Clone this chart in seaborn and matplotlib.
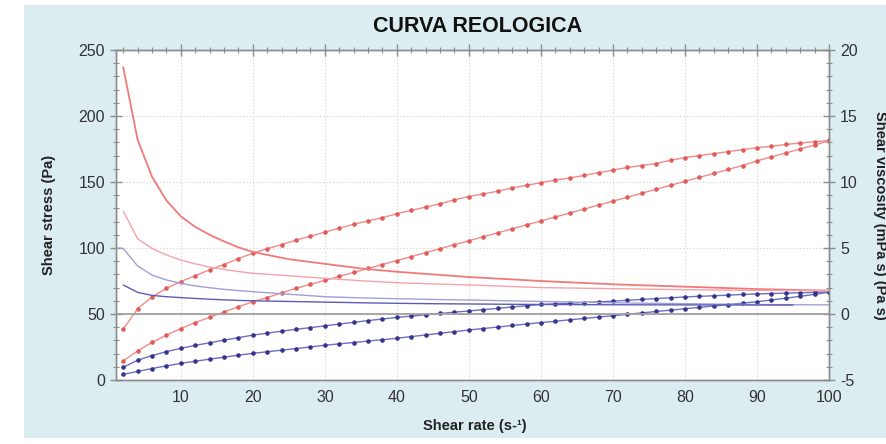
import numpy as np
import pandas as pd
import matplotlib
matplotlib.use("Agg")
import matplotlib.pyplot as plt
from matplotlib.patches import Rectangle
from matplotlib.ticker import MultipleLocator
import seaborn as sns

# ---------------- data ----------------
shear_rate = list(range(2, 101, 2))

stress_red_up = [38.5, 54, 63, 69.5, 74.5, 79, 83.5, 87.5, 92, 96,
                 99.5, 102.5, 106, 109, 112, 115, 118, 120.5, 123, 126,
                 128.5, 131, 133.5, 136.5, 139, 141, 143, 145.5, 147.5, 149.5,
                 151.5, 153, 155, 157, 159, 161, 162.5, 164, 166.5, 168.5,
                 170, 171.5, 173, 174.5, 176, 177, 178.5, 179.5, 180.5, 181.5]
stress_red_down = [14.5, 22, 28.5, 34, 39, 43.5, 47.5, 51.5, 55.5, 59.3,
                   62.5, 66, 69.5, 72.5, 75.5, 78.5, 81.5, 84.5, 87.5, 90.5,
                   93.5, 96.5, 99.5, 102.5, 105.5, 108.5, 111.5, 114.5, 117.5, 120.5,
                   123.5, 126.5, 129.5, 132.5, 135.5, 138.5, 141.5, 144.5, 147.5, 150.5,
                   153.5, 156.5, 159.5, 162.5, 166, 169, 172, 175, 178, 181.3]
stress_blue_up = [9.6, 15, 18.5, 21.5, 24, 26.2, 28.2, 30.2, 32.1, 34,
                  35.5, 37, 38.4, 39.7, 41, 42.4, 43.7, 45, 46.2, 47.4,
                  48.4, 49.4, 50.4, 51.4, 52.3, 53.3, 54.3, 55.3, 56.3, 57.2,
                  57.7, 58.2, 58.7, 59.2, 59.7, 60.4, 61, 61.7, 62.3, 62.9,
                  63.4, 63.8, 64.3, 64.8, 65.2, 65.5, 65.8, 66.1, 66.4, 66.7]
stress_blue_down = [4.3, 6.5, 8.7, 10.7, 12.6, 14.2, 15.8, 17.3, 18.8, 20.2,
                    21.4, 22.6, 23.8, 25.1, 26.3, 27.4, 28.4, 29.5, 30.5, 31.6,
                    32.9, 34.1, 35.4, 36.6, 37.9, 39, 40.1, 41.3, 42.4, 43.5,
                    44.5, 45.6, 46.6, 47.7, 48.7, 49.8, 50.8, 51.9, 52.9, 54,
                    55, 56.1, 57.1, 58.2, 59.3, 60.6, 62, 63.4, 64.9, 66.5]

visc_rate = [2, 4, 6, 8, 10, 12, 14, 16, 18, 20, 25, 30, 35, 40, 45, 50, 60, 70, 80, 90, 100]
visc_red_1 = [18.7, 13.2, 10.4, 8.6, 7.4, 6.6, 6.0, 5.5, 5.05, 4.7, 4.15, 3.8, 3.45, 3.2,
              3.0, 2.8, 2.5, 2.25, 2.07, 1.89, 1.77]
visc_red_2 = [7.8, 5.7, 4.97, 4.47, 4.09, 3.8, 3.55, 3.38, 3.22, 3.08, 2.9, 2.7, 2.52, 2.37,
              2.28, 2.2, 2.0, 1.92, 1.84, 1.79, 1.77]
visc_blue_1_rate = [1] + visc_rate
visc_blue_1 = [5.0, 4.97, 3.64, 2.95, 2.58, 2.32, 2.13, 1.99, 1.87, 1.77, 1.69, 1.5, 1.31,
               1.22, 1.16, 1.1, 1.06, 0.95, 0.85, 0.78, 0.72, 0.69]
visc_blue_2_rate = [2, 4, 6, 8, 10, 12, 14, 16, 18, 20, 25, 30, 35, 40, 45, 50, 60, 70, 80, 90, 95]
visc_blue_2 = [2.2, 1.64, 1.41, 1.31, 1.24, 1.18, 1.12, 1.07, 1.03, 1.0, 0.95, 0.9, 0.85,
               0.81, 0.78, 0.76, 0.72, 0.70, 0.69, 0.68, 0.68]

x_ticks = [10, 20, 30, 40, 50, 60, 70, 80, 90, 100]
y_left_ticks = [0, 50, 100, 150, 200, 250]
y_right_ticks = [-5, 0, 5, 10, 15, 20]

title = "CURVA REOLOGICA"
x_label = "Shear rate (s-\u00b9)"
y_left_label = "Shear stress (Pa)"
y_right_label = "Shear viscosity (mPa s) (Pa s)"

# ---------------- style ----------------
sns.set_style("white")
plt.rcParams["font.family"] = ["Liberation Sans", "DejaVu Sans"]
plt.rcParams["axes.unicode_minus"] = False

W, H = 887, 444
fig = plt.figure(figsize=(W / 100, H / 100), dpi=100, facecolor="white")
bg = Rectangle((24 / W, 1 - 438 / H), 1 - 24 / W, (438 - 5) / H,
               transform=fig.transFigure, facecolor="#dcedf2",
               edgecolor="none", zorder=-10)
fig.add_artist(bg)

ax = fig.add_axes([116 / W, 1 - 380 / H, (829 - 116) / W, (380 - 50) / H])
ax.set_facecolor("white")
ax2 = ax.twinx()

red_line = "#f28a8a"
red_mark = "#e25a5a"
blue_line = "#6e6ec4"
blue_mark = "#33338a"

df_s = pd.DataFrame({"rate": shear_rate, "ru": stress_red_up, "rd": stress_red_down,
                     "bu": stress_blue_up, "bd": stress_blue_down})

for col, lc, mc in [("ru", red_line, red_mark), ("rd", red_line, red_mark),
                    ("bu", blue_line, blue_mark), ("bd", blue_line, blue_mark)]:
    sns.lineplot(data=df_s, x="rate", y=col, ax=ax, color=lc, linewidth=1.0,
                 marker="o", markersize=2.5, markerfacecolor=mc,
                 markeredgecolor=mc, zorder=4)

sns.lineplot(x=visc_rate, y=visc_red_1, ax=ax2, color="#f07a7a", linewidth=1.3, zorder=3)
sns.lineplot(x=visc_rate, y=visc_red_2, ax=ax2, color="#f4a3aa", linewidth=1.0, zorder=3)
sns.lineplot(x=visc_blue_1_rate, y=visc_blue_1, ax=ax2, color="#a0a0d6", linewidth=1.0, zorder=3)
sns.lineplot(x=visc_blue_2_rate, y=visc_blue_2, ax=ax2, color="#5c5cb6", linewidth=1.0, zorder=3)
ax2.axhline(0, color="#a0a0a0", linewidth=1.3, zorder=2)

# ---------------- axes ----------------
ax.set_xlim(1, 100)
ax.set_ylim(0, 250)
ax2.set_ylim(-5, 20)

ax.set_xticks(x_ticks)
ax.set_yticks(y_left_ticks)
ax2.set_yticks(y_right_ticks)
ax.xaxis.set_minor_locator(MultipleLocator(2))
ax.yaxis.set_minor_locator(MultipleLocator(10))
ax2.yaxis.set_minor_locator(MultipleLocator(1))

ax.grid(True, which="major", color="#d6d6d6", linestyle=(0, (1.2, 1.8)), linewidth=0.8)
ax.set_axisbelow(True)

spine_c = "#8c8c8c"
for a in (ax, ax2):
    for s in a.spines.values():
        s.set_color(spine_c)
        s.set_linewidth(1.0)

ax.tick_params(axis="x", which="major", direction="inout", length=8, width=1,
               color=spine_c, labelsize=11.5, labelcolor="#333333", pad=3, top=True)
ax.tick_params(axis="x", which="minor", direction="inout", length=5, width=0.8,
               color=spine_c, top=True)
ax.tick_params(axis="y", which="major", direction="inout", length=8, width=1,
               color=spine_c, labelsize=11.5, labelcolor="#333333", pad=4)
ax.tick_params(axis="y", which="minor", direction="inout", length=5, width=0.8,
               color=spine_c)
ax2.tick_params(axis="y", which="major", direction="inout", length=8, width=1,
                color=spine_c, labelsize=11.5, labelcolor="#333333", pad=4)
ax2.tick_params(axis="y", which="minor", direction="inout", length=5, width=0.8,
                color=spine_c)

ax.set_xlabel(x_label, fontsize=10.5, fontweight="bold", color="#222222")
ax.xaxis.set_label_coords((475 - 116) / (829 - 116), -(419 - 380) / (380 - 50))
ax.set_ylabel(y_left_label, fontsize=10.5, fontweight="bold", color="#222222")
ax.yaxis.set_label_coords(-(116 - 56) / (829 - 116), 0.5)
ax2.set_ylabel(y_right_label, fontsize=10.5, fontweight="bold", color="#222222",
               rotation=270, va="center")
ax2.yaxis.set_label_coords((880 - 116) / (829 - 116), 0.5)

fig.text(478 / W, 1 - 27 / H, title, ha="center", va="center",
         fontsize=15.5, fontweight="bold", color="#111111")

fig.savefig("out.png", dpi=100, facecolor=fig.get_facecolor())
